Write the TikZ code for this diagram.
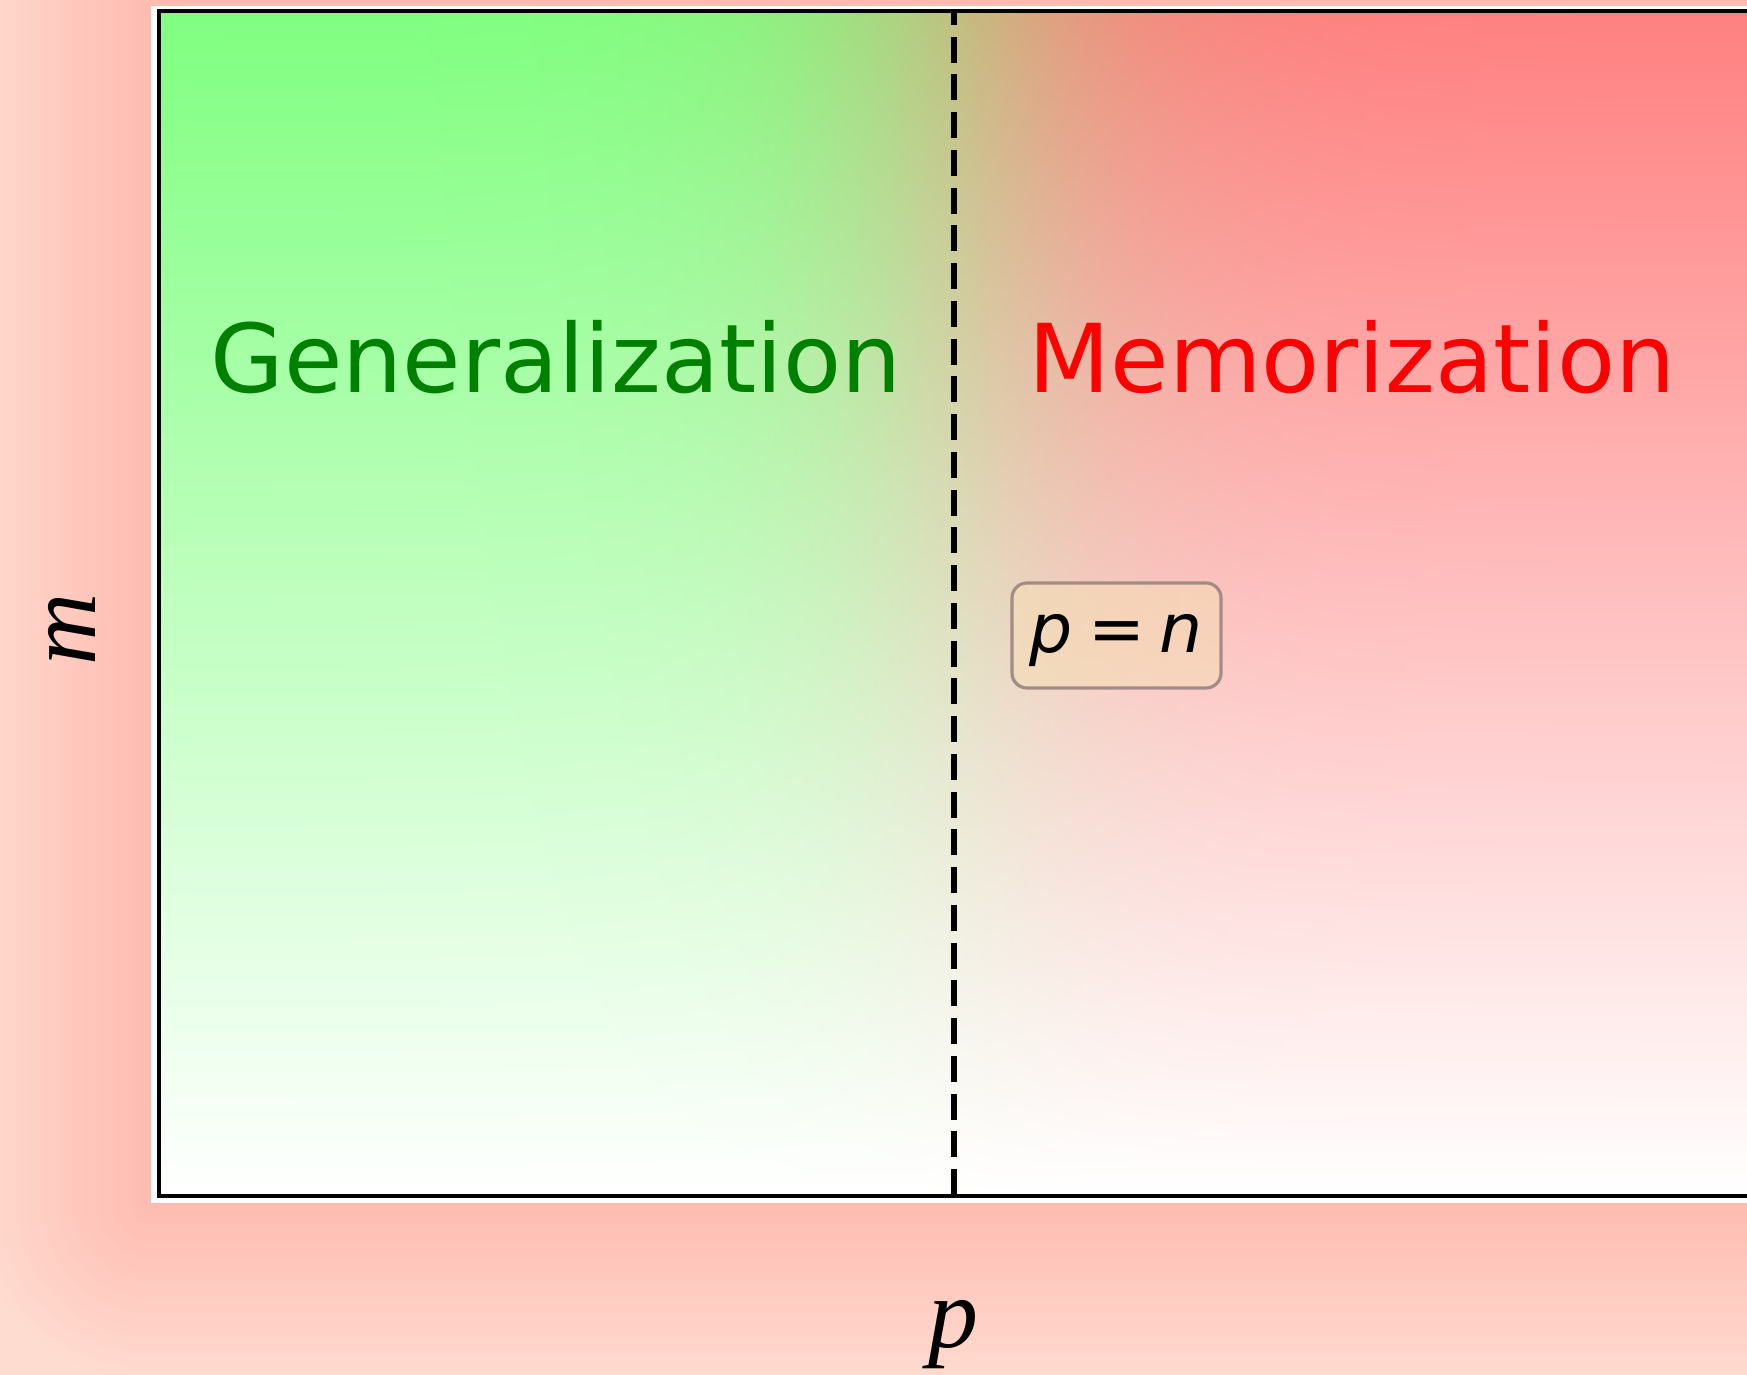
\documentclass[tikz,border=0pt]{standalone}
\usepackage{fontspec}
\setmainfont{DejaVu Sans}
\newfontfamily\labelfont{Liberation Serif}
\definecolor{glownear}{RGB}{255,187,176}
\definecolor{glowfar}{RGB}{255,219,208}
\definecolor{gtop}{RGB}{128,255,128}
\definecolor{rtop}{RGB}{255,128,128}
\definecolor{gentextcol}{RGB}{0,128,0}
\definecolor{memtextcol}{RGB}{255,0,0}
\definecolor{boxedge}{RGB}{164,140,134}
\definecolor{wheatcol}{RGB}{245,222,179}
\tikzset{
  regiontext/.style={anchor=base, inner sep=0pt, font=\fontsize{95}{110}\selectfont},
  gentxt/.style={regiontext, text=gentextcol},
  memtxt/.style={regiontext, text=memtextcol},
  pnbox/.style={draw=boxedge, line width=3.2pt, fill=wheatcol, fill opacity=0.5, text opacity=1,
    rounded corners=15pt, minimum width=209pt, minimum height=105pt, inner sep=0pt,
    text height=44.4pt, text depth=10pt, font=\fontsize{68}{80}\selectfont},
  axlabel/.style={anchor=base, inner sep=0pt, font=\labelfont\itshape\fontsize{100}{120}\selectfont},
  divider/.style={line width=6pt, dash pattern=on 26pt off 11.75pt, dash phase=12pt},
  plotframe/.style={line width=4pt, draw=black}
}
\begin{document}
\begin{tikzpicture}[x=1pt,y=1pt]
\useasboundingbox (0,0) rectangle (1747,1375);
% background glow
\fill[glowfar] (0,0) rectangle (1747,1375);
\foreach \k in {45,44,...,0}{
  \pgfmathsetmacro\d{4*\k}
  \pgfmathsetmacro\pct{100*\k/45}
  \fill[glowfar!\pct!glownear, rounded corners=\d pt] (151-\d,172-\d) rectangle (1756+\d,1369+\d);
}
% white border
\fill[white] (151,172) rectangle (1756,1369);
% plot interior: green-to-red blend, fading to white at bottom
\foreach \x in {159,164,...,1749}{
  \pgfmathsetmacro\w{100/(1+exp((\x+2.5-954)/95))}
  \shade[top color=gtop!\w!rtop, bottom color=white] (\x,179) rectangle (\x+6,1364);
}
% frame
\draw[plotframe] (159,179) rectangle (1750,1364);
% divider
\coordinate (dtop) at (954,1364);
\coordinate (dbot) at (954,179);
\draw[divider] (dtop) -- (dbot);
% region labels
\node[gentxt] (gen) at (556,982) {Generalization};
\node[memtxt] (mem) at (1352,982) {Memorization};
% p = n box
\node[pnbox] (pn) at (1116.5,739.5) {{\itshape p}\hspace{0.22em}=\hspace{0.22em}{\itshape n}};
% axis labels
\node[axlabel] (xlab) at (953,27) {p};
\node[axlabel, rotate=90] (ylab) at (95,746) {m};
\end{tikzpicture}
\end{document}
